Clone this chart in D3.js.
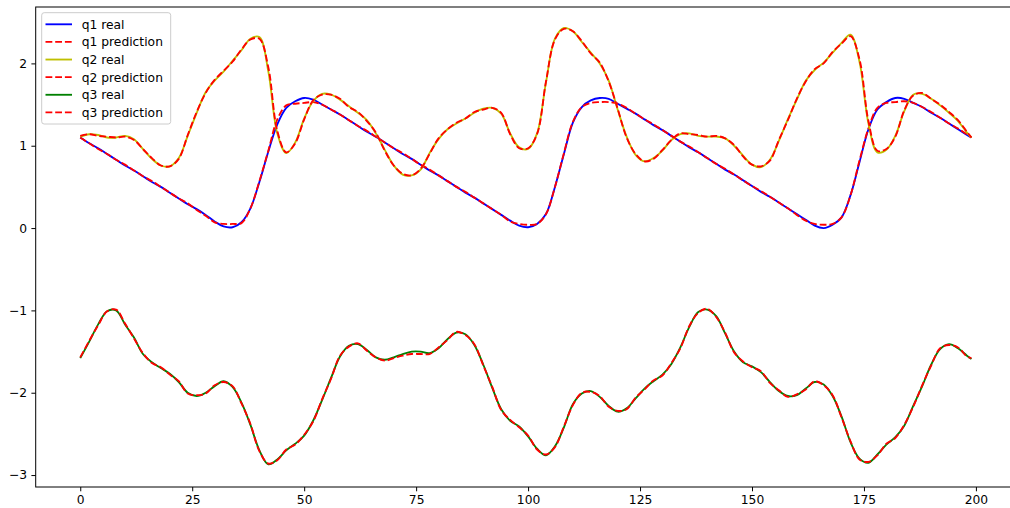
<!DOCTYPE html>
<html>
<head>
<meta charset="utf-8">
<script src="https://cdn.jsdelivr.net/npm/d3@7/dist/d3.min.js"></script>
<style>
  html, body { margin: 0; padding: 0; background: #fff; }
  svg { display: block; }
  text { font-family: "DejaVu Sans", sans-serif; }
</style>
</head>
<body>
<svg id="chart" width="1010" height="508"></svg>
<script>
// Time steps (every second sample plus the last one)
const steps = d3.range(0, 200, 2).concat([199]);

const q1Real = [
  1.10, 1.03, 0.97, 0.90, 0.83, 0.76, 0.70, 0.63, 0.56, 0.50,
  0.43, 0.36, 0.29, 0.23, 0.16, 0.08, 0.02, 0.01, 0.07, 0.24,
  0.56, 0.93, 1.26, 1.46, 1.54, 1.58, 1.56, 1.50, 1.44, 1.38,
  1.31, 1.24, 1.17, 1.11, 1.04, 0.97, 0.90, 0.84, 0.77, 0.70,
  0.64, 0.57, 0.50, 0.43, 0.37, 0.30, 0.23, 0.16, 0.09, 0.03,
  0.01, 0.05, 0.17, 0.50, 0.90, 1.28, 1.47, 1.55, 1.58, 1.57,
  1.51, 1.45, 1.39, 1.32, 1.25, 1.19, 1.12, 1.05, 0.98, 0.92,
  0.85, 0.78, 0.71, 0.65, 0.58, 0.51, 0.44, 0.38, 0.31, 0.24,
  0.17, 0.10, 0.03, 0.00, 0.04, 0.13, 0.40, 0.80, 1.20, 1.44,
  1.53, 1.58, 1.57, 1.52, 1.47, 1.40, 1.34, 1.27, 1.20, 1.13,
  1.10
];
const q1Pred = [
  1.10, 1.03, 0.96, 0.90, 0.83, 0.77, 0.70, 0.63, 0.57, 0.50,
  0.43, 0.36, 0.30, 0.22, 0.15, 0.07, 0.05, 0.05, 0.06, 0.24,
  0.57, 0.94, 1.32, 1.49, 1.51, 1.52, 1.53, 1.50, 1.44, 1.38,
  1.31, 1.24, 1.18, 1.11, 1.04, 0.97, 0.91, 0.84, 0.77, 0.71,
  0.64, 0.57, 0.50, 0.44, 0.37, 0.30, 0.23, 0.16, 0.08, 0.05,
  0.04, 0.05, 0.17, 0.50, 0.91, 1.29, 1.47, 1.52, 1.53, 1.53,
  1.51, 1.46, 1.39, 1.32, 1.26, 1.19, 1.12, 1.05, 0.99, 0.92,
  0.85, 0.78, 0.72, 0.65, 0.58, 0.51, 0.45, 0.38, 0.31, 0.24,
  0.16, 0.09, 0.05, 0.04, 0.05, 0.13, 0.40, 0.82, 1.21, 1.46,
  1.52, 1.53, 1.54, 1.52, 1.47, 1.41, 1.34, 1.27, 1.21, 1.14,
  1.10
];

const q2Real = [
  1.11, 1.14, 1.13, 1.10, 1.10, 1.12, 1.08, 0.96, 0.84, 0.76,
  0.75, 0.85, 1.12, 1.40, 1.65, 1.79, 1.90, 2.03, 2.16, 2.30,
  2.32, 1.90, 1.15, 0.91, 1.04, 1.33, 1.54, 1.63, 1.62, 1.56,
  1.48, 1.40, 1.31, 1.15, 0.95, 0.76, 0.65, 0.64, 0.71, 0.91,
  1.08, 1.20, 1.27, 1.33, 1.40, 1.45, 1.46, 1.39, 1.15, 0.98,
  0.96, 1.15, 1.77, 2.30, 2.43, 2.39, 2.26, 2.13, 2.00, 1.79,
  1.44, 1.11, 0.89, 0.81, 0.85, 0.94, 1.07, 1.14, 1.15, 1.12,
  1.11, 1.11, 1.09, 1.00, 0.88, 0.77, 0.74, 0.83, 1.06, 1.32,
  1.56, 1.79, 1.92, 2.01, 2.13, 2.25, 2.35, 2.02, 1.27, 0.92,
  0.95, 1.12, 1.42, 1.62, 1.63, 1.57, 1.49, 1.40, 1.30, 1.16,
  1.10
];
const q2Pred = [
  1.12, 1.14, 1.12, 1.11, 1.10, 1.11, 1.07, 0.96, 0.85, 0.76,
  0.75, 0.84, 1.13, 1.41, 1.64, 1.80, 1.91, 2.02, 2.17, 2.29,
  2.30, 1.95, 1.18, 0.92, 1.03, 1.32, 1.55, 1.62, 1.62, 1.57,
  1.47, 1.41, 1.30, 1.16, 0.94, 0.76, 0.66, 0.64, 0.72, 0.90,
  1.09, 1.20, 1.28, 1.33, 1.41, 1.44, 1.46, 1.40, 1.14, 0.97,
  0.97, 1.14, 1.78, 2.29, 2.42, 2.39, 2.27, 2.12, 2.01, 1.78,
  1.45, 1.10, 0.90, 0.81, 0.84, 0.95, 1.07, 1.15, 1.14, 1.13,
  1.11, 1.12, 1.09, 1.01, 0.87, 0.77, 0.75, 0.82, 1.07, 1.31,
  1.57, 1.78, 1.93, 2.00, 2.14, 2.24, 2.33, 2.05, 1.30, 0.94,
  0.96, 1.11, 1.43, 1.61, 1.64, 1.57, 1.50, 1.41, 1.31, 1.17,
  1.10
];

const q3Real = [
  -1.58, -1.38, -1.17, -1.01, -1.00, -1.17, -1.33, -1.53, -1.63, -1.70,
  -1.77, -1.87, -2.00, -2.04, -2.00, -1.92, -1.86, -1.93, -2.12, -2.39,
  -2.70, -2.87, -2.81, -2.70, -2.62, -2.52, -2.34, -2.09, -1.82, -1.56,
  -1.43, -1.41, -1.48, -1.57, -1.60, -1.57, -1.53, -1.50, -1.50, -1.52,
  -1.46, -1.35, -1.27, -1.29, -1.42, -1.66, -1.94, -2.20, -2.34, -2.41,
  -2.53, -2.68, -2.76, -2.65, -2.42, -2.14, -2.01, -1.98, -2.05, -2.16,
  -2.23, -2.19, -2.07, -1.95, -1.86, -1.78, -1.65, -1.45, -1.20, -1.02,
  -0.99, -1.07, -1.28, -1.50, -1.63, -1.68, -1.75, -1.87, -1.98, -2.04,
  -2.03, -1.95, -1.87, -1.90, -2.04, -2.29, -2.60, -2.80, -2.85, -2.75,
  -2.63, -2.54, -2.40, -2.16, -1.92, -1.66, -1.47, -1.41, -1.46, -1.55,
  -1.59
];
const q3Pred = [
  -1.57, -1.37, -1.18, -1.01, -0.99, -1.16, -1.34, -1.52, -1.64, -1.69,
  -1.78, -1.86, -2.01, -2.03, -2.01, -1.91, -1.87, -1.92, -2.13, -2.38,
  -2.71, -2.86, -2.82, -2.69, -2.63, -2.51, -2.35, -2.08, -1.83, -1.55,
  -1.44, -1.40, -1.49, -1.57, -1.61, -1.58, -1.55, -1.53, -1.53, -1.53,
  -1.45, -1.36, -1.26, -1.30, -1.41, -1.67, -1.93, -2.21, -2.33, -2.42,
  -2.52, -2.69, -2.75, -2.66, -2.41, -2.15, -2.00, -1.99, -2.04, -2.17,
  -2.22, -2.20, -2.06, -1.96, -1.85, -1.79, -1.64, -1.46, -1.19, -1.03,
  -0.98, -1.08, -1.27, -1.51, -1.62, -1.69, -1.74, -1.88, -1.97, -2.05,
  -2.02, -1.96, -1.86, -1.91, -2.03, -2.30, -2.59, -2.81, -2.84, -2.76,
  -2.62, -2.55, -2.39, -2.17, -1.91, -1.67, -1.46, -1.42, -1.45, -1.56,
  -1.58
];

const xTicks = [0, 25, 50, 75, 100, 125, 150, 175, 200];
const yTicks = [-3, -2, -1, 0, 1, 2];

const seriesNames = ["q1 real", "q1 prediction", "q2 real", "q2 prediction", "q3 real", "q3 prediction"];
const seriesValues = [q1Real, q1Pred, q2Real, q2Pred, q3Real, q3Pred];
const seriesColors = ["#0000ff", "#ff0000", "#bfbf00", "#ff0000", "#008000", "#ff0000"];
const seriesDashed = [false, true, false, true, false, true];

// ---- layout ----
const svg = d3.select("#chart");
const plot = { left: 35.7, right: 1016, top: 7, bottom: 487 };
const lineW = 1.85;
const dash = "6.8,2.9";
const fontPx = 12.3;

const x = d3.scaleLinear().domain([-9.95, 208.95]).range([plot.left, plot.right]);
const y = d3.scaleLinear().domain([-3.145, 2.685]).range([plot.bottom, plot.top]);

const clip = svg.append("defs").append("clipPath").attr("id", "plotclip")
  .append("rect")
  .attr("x", plot.left).attr("y", plot.top)
  .attr("width", plot.right - plot.left).attr("height", plot.bottom - plot.top);

// ---- data lines ----
const line = d3.line()
  .x((d, i) => x(steps[i]))
  .y(d => y(d))
  .curve(d3.curveCatmullRom.alpha(0.5));

const lines = svg.append("g").attr("clip-path", "url(#plotclip)");
seriesValues.forEach((vals, k) => {
  lines.append("path")
    .datum(vals)
    .attr("d", line)
    .attr("fill", "none")
    .attr("stroke", seriesColors[k])
    .attr("stroke-width", lineW)
    .attr("stroke-linejoin", "round")
    .attr("stroke-dasharray", seriesDashed[k] ? dash : null);
});

// ---- axes ----
const xAxis = d3.axisBottom(x).tickValues(xTicks).tickSize(4.3).tickPadding(3.6)
  .tickFormat(d3.format("d"));
const yAxis = d3.axisLeft(y).tickValues(yTicks).tickSize(4.3).tickPadding(4.3)
  .tickFormat(d => d < 0 ? "\u2212" + Math.abs(d) : String(d));

const gx = svg.append("g").attr("transform", `translate(0,${plot.bottom})`).call(xAxis);
const gy = svg.append("g").attr("transform", `translate(${plot.left},0)`).call(yAxis);
[gx, gy].forEach(g => {
  g.select(".domain").remove();
  g.selectAll(".tick line").attr("stroke", "#000").attr("stroke-width", 1);
  g.selectAll(".tick text")
    .attr("fill", "#000")
    .style("font-family", "'DejaVu Sans', sans-serif")
    .style("font-size", fontPx + "px");
});

// spines
svg.append("rect")
  .attr("x", plot.left).attr("y", plot.top)
  .attr("width", plot.right - plot.left).attr("height", plot.bottom - plot.top)
  .attr("fill", "none").attr("stroke", "#000").attr("stroke-width", 1);

// ---- legend ----
const legend = svg.append("g");
legend.append("rect")
  .attr("x", 41.7).attr("y", 12.7).attr("width", 129).attr("height", 111.3)
  .attr("rx", 2.5).attr("ry", 2.5)
  .attr("fill", "#fff").attr("fill-opacity", 0.8)
  .attr("stroke", "#cccccc").attr("stroke-width", 1);

seriesNames.forEach((name, k) => {
  const cy = 24.3 + k * 17.62;
  legend.append("line")
    .attr("x1", 45.5).attr("x2", 72)
    .attr("y1", cy).attr("y2", cy)
    .attr("stroke", seriesColors[k])
    .attr("stroke-width", lineW)
    .attr("stroke-dasharray", seriesDashed[k] ? dash : null);
  legend.append("text")
    .attr("x", 81.7).attr("y", cy)
    .attr("dy", "0.36em")
    .attr("fill", "#000")
    .style("font-size", fontPx + "px")
    .text(name);
});
</script>
</body>
</html>
